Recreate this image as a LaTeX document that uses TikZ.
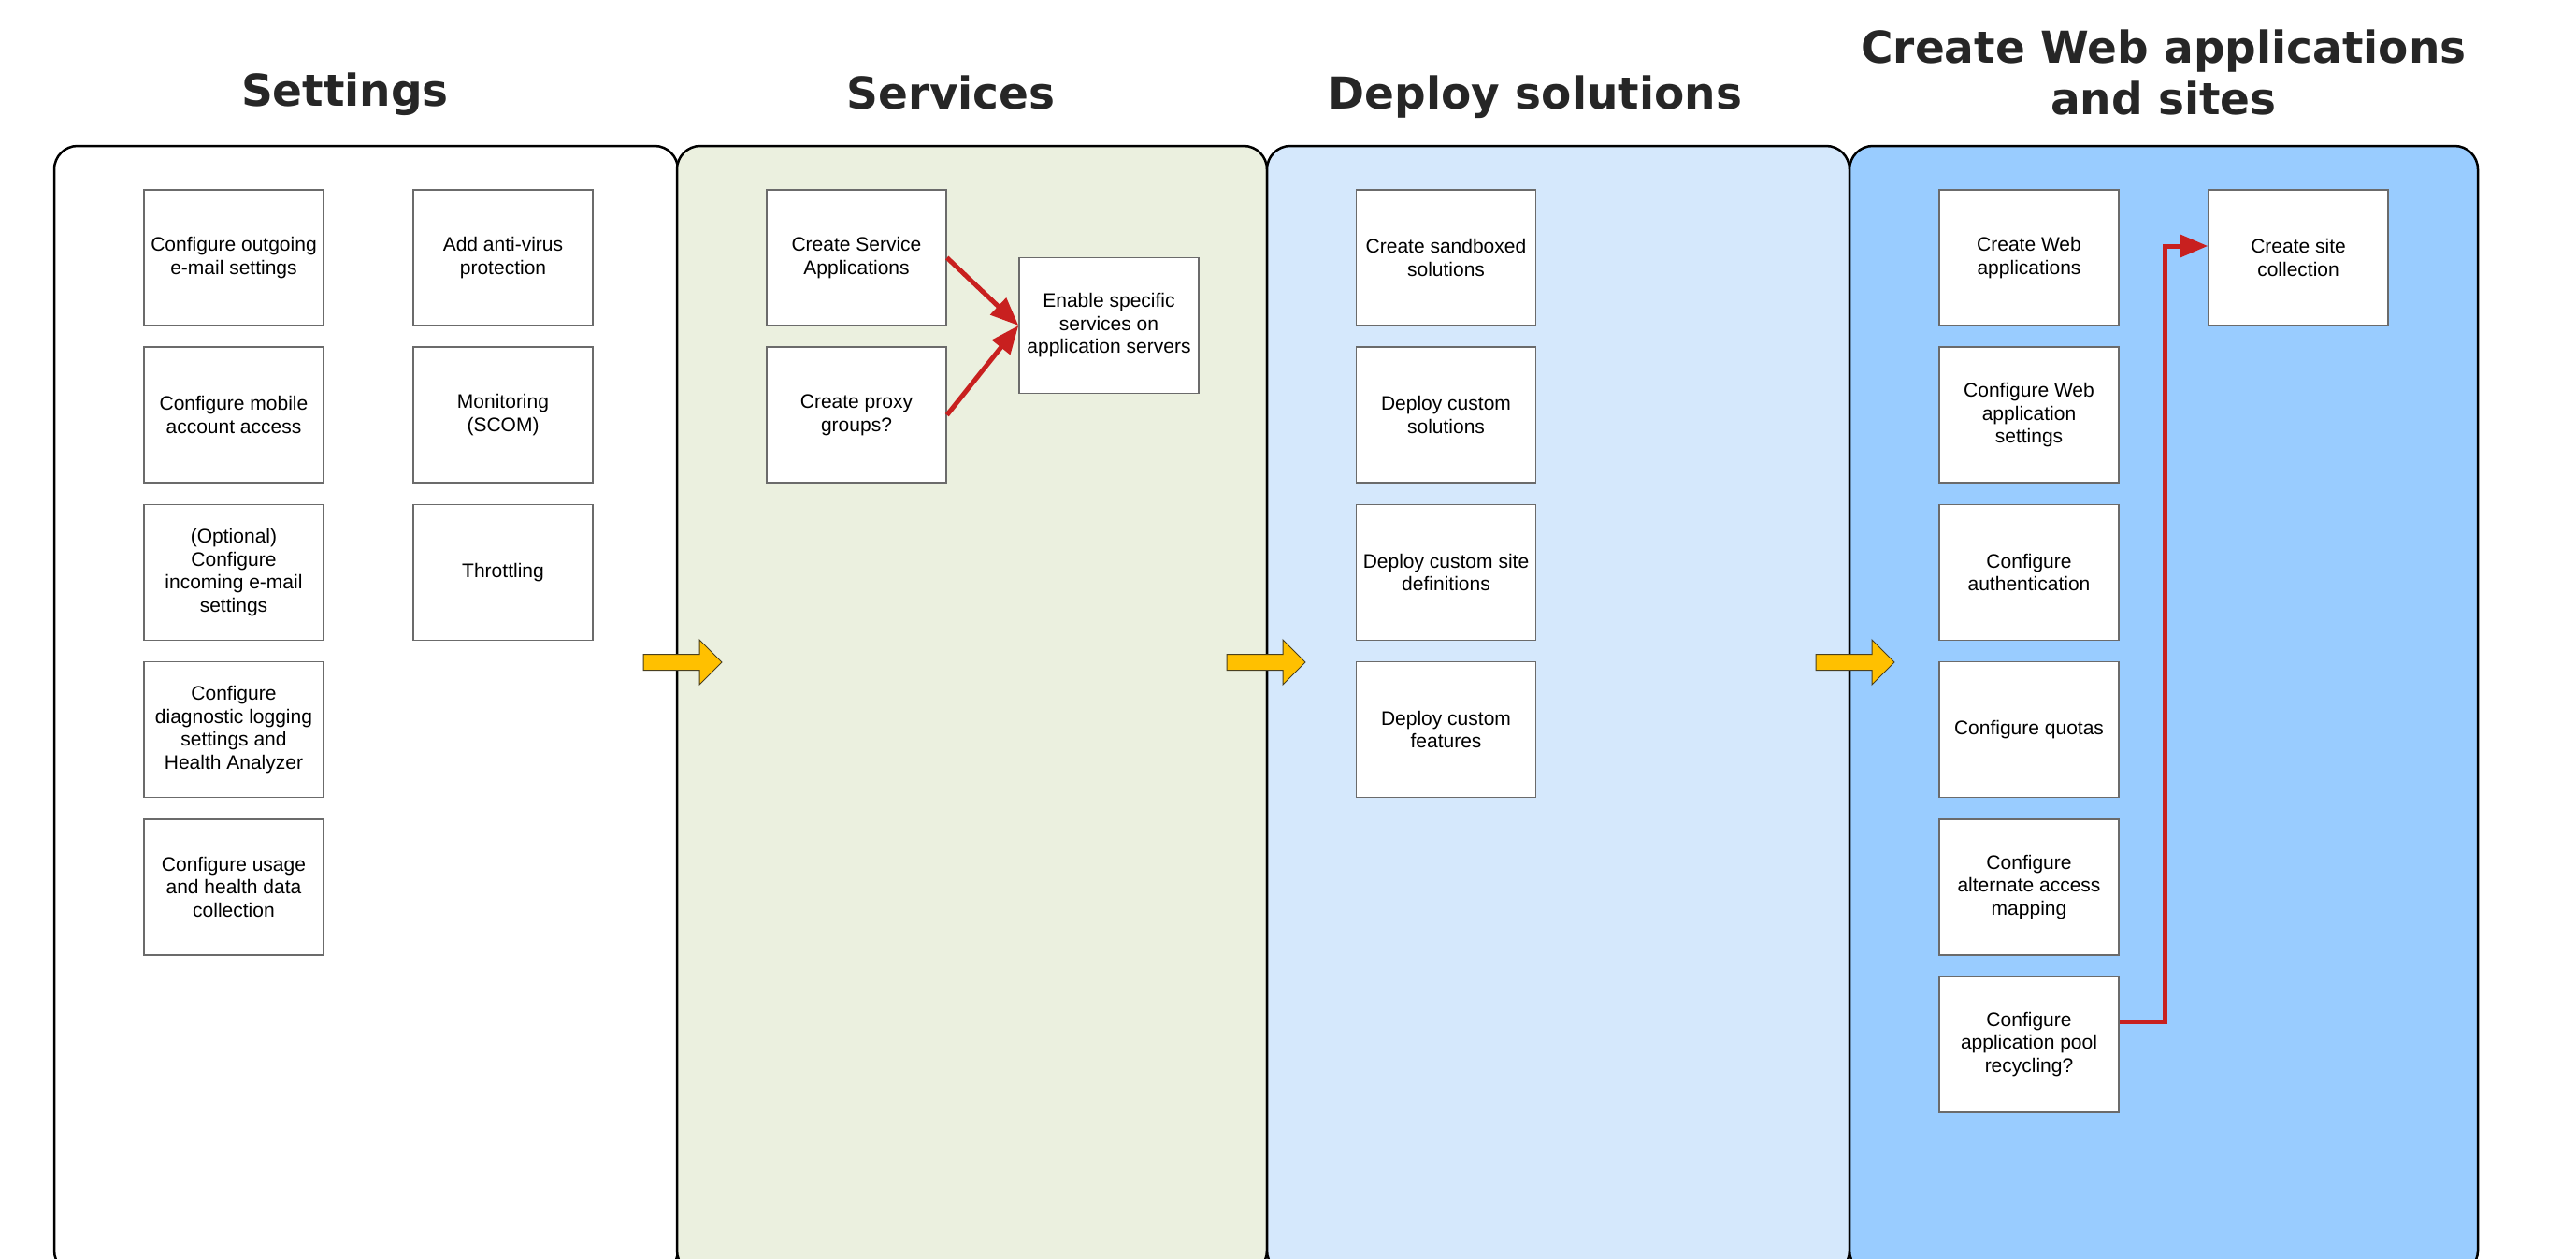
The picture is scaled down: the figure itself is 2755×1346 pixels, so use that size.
\documentclass[tikz,border=0pt]{standalone}
\usepackage{fontspec}
\setmainfont{Liberation Sans}
\newfontfamily\hdrfont{DejaVu Sans}
\usetikzlibrary{arrows.meta}
\definecolor{pgreen}{HTML}{EBF0DF}
\definecolor{pblue}{HTML}{D5E8FC}
\definecolor{pdeep}{HTML}{99CCFF}
\definecolor{boxgray}{HTML}{6B6B6B}
\definecolor{arrred}{HTML}{C8201F}
\definecolor{ayellow}{HTML}{FFC000}
\definecolor{aline}{HTML}{4A4020}
\definecolor{hdrgray}{HTML}{262626}
\begin{document}
\begin{tikzpicture}[x=1pt,y=-1pt,
  task/.style={draw=boxgray, line width=1.5pt, fill=white, minimum width=192pt,
    minimum height=145pt, inner sep=0pt, align=center,
    font=\fontsize{21}{24.5}\selectfont},
  hdr/.style={font=\hdrfont\bfseries\fontsize{47}{55}\selectfont, text=hdrgray, anchor=base},
  panel/.style={draw=black, line width=2.5pt, rounded corners=25pt},
  redarrow/.style={draw=arrred, line width=5pt, -{Triangle[length=30pt,width=24pt]}},
  yarrow/.pic={\draw[draw=aline, fill=ayellow, line width=1pt]
     (0,-8.5) -- (60,-8.5) -- (60,-24) -- (84,0) -- (60,24) -- (60,8.5) -- (0,8.5) -- cycle;}
]
\useasboundingbox (0,0) rectangle (2755,1346);
\clip (0,0) rectangle (2755,1346);

% panels
\draw[panel, fill=white] (58,156) rectangle (725,1362);
\draw[panel, fill=pgreen] (724,156) rectangle (1355,1362);
\draw[panel, fill=pblue] (1355,156) rectangle (1978,1362);
\draw[panel, fill=pdeep] (1978,156) rectangle (2650,1362);

% headings
\node[hdr] (h1) at (369,113) {Settings};
\node[hdr] (h2) at (1017,117) {Services};
\node[hdr] (h3) at (1642,117) {Deploy solutions};
\node[hdr] (h4a) at (2314,67) {Create Web applications};
\node[hdr] (h4b) at (2314,122) {and sites};

% Settings
\node[task] (st1) at (250,275.5) {Configure outgoing\\e-mail settings};
\node[task] (st2) at (250,443.7) {Configure mobile\\account access};
\node[task] (st3) at (250,611.9) {(Optional)\\Configure\\incoming e-mail\\settings};
\node[task] (st4) at (250,780.1) {Configure\\diagnostic logging\\settings and\\Health Analyzer};
\node[task] (st5) at (250,948.3) {Configure usage\\and health data\\collection};
\node[task] (st6) at (538,275.5) {Add anti-virus\\protection};
\node[task] (st7) at (538,443.7) {Monitoring\\(SCOM)};
\node[task] (st8) at (538,611.9) {Throttling};

% Services
\node[task] (sv1) at (916,275.5) {Create Service\\Applications};
\node[task] (sv2) at (916,443.7) {Create proxy\\groups?};
\node[task] (sv3) at (1186,348) {Enable specific\\services on\\application servers};

% Deploy
\node[task] (dp1) at (1546.5,275.5) {Create sandboxed\\solutions};
\node[task] (dp2) at (1546.5,443.7) {Deploy custom\\solutions};
\node[task] (dp3) at (1546.5,611.9) {Deploy custom site\\definitions};
\node[task] (dp4) at (1546.5,780.1) {Deploy custom\\features};

% Web apps
\node[task] (wa1) at (2170,275.5) {Create Web\\applications};
\node[task] (wa2) at (2170,443.7) {Configure Web\\application\\settings};
\node[task] (wa3) at (2170,611.9) {Configure\\authentication};
\node[task] (wa4) at (2170,780.1) {Configure quotas};
\node[task] (wa5) at (2170,948.3) {Configure\\alternate access\\mapping};
\node[task] (wa6) at (2170,1116.5) {Configure\\application pool\\recycling?};
\node[task] (wa7) at (2458,275.5) {Create site\\collection};

% connectors
\draw[redarrow] (sv1.east) -- (sv3.west);
\draw[redarrow] (sv2.east) -- (sv3.west);
\draw[redarrow] ([yshift=24pt]wa6.east) -- ++(49,0) |- ([yshift=12.5pt]wa7.west);

% block arrows
\pic (ya1) at (688,708) {yarrow};
\pic (ya2) at (1312,708) {yarrow};
\pic (ya3) at (1942,708) {yarrow};
\end{tikzpicture}
\end{document}
